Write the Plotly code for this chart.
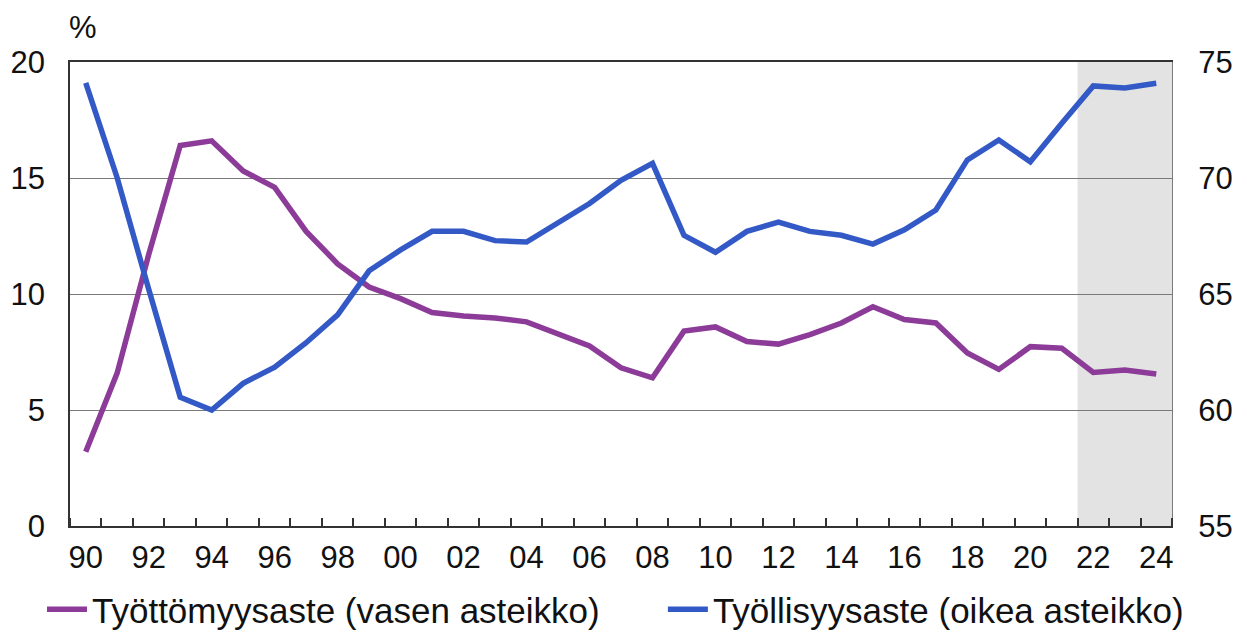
import plotly.graph_objects as go

years = list(range(1990, 2025))
tick_years = list(range(1990, 2025, 2))
tick_labels = [f"{y % 100:02d}" for y in tick_years]

unemployment = [3.2, 6.6, 11.7, 16.4, 16.6, 15.3, 14.6, 12.7, 11.3, 10.3,
                9.8, 9.2, 9.05, 8.97, 8.8, 8.3, 7.76, 6.82, 6.39, 8.4,
                8.58, 7.95, 7.84, 8.25, 8.75, 9.45, 8.9, 8.75, 7.46, 6.75,
                7.73, 7.66, 6.62, 6.72, 6.55]
employment = [74.1, 70.0, 65.2, 60.55, 60.0, 61.15, 61.85, 62.9, 64.1, 66.0,
              66.9, 67.7, 67.7, 67.3, 67.24, 68.1, 68.9, 69.9, 70.63, 67.53,
              66.8, 67.7, 68.1, 67.7, 67.53, 67.15, 67.77, 68.62, 70.78, 71.64,
              70.7, 72.36, 73.97, 73.88, 74.08]

shade_start, shade_end = 2021.5, 2024.5

PURPLE = "#8C3C98"
BLUE = "#3359C6"
FONT = "Liberation Sans, Arial, sans-serif"
FS = 31
LFS = 35

fig = go.Figure()
fig.add_trace(go.Scatter(x=years, y=unemployment, mode="lines",
                         name="Työttömyysaste (vasen asteikko)", legend="legend",
                         line=dict(color=PURPLE, width=5.5)))
fig.add_trace(go.Scatter(x=years, y=employment, mode="lines", yaxis="y2",
                         name="Työllisyysaste (oikea asteikko)", legend="legend2",
                         line=dict(color=BLUE, width=5.5)))

fig.add_shape(type="rect", xref="x", yref="paper", x0=shade_start, x1=shade_end,
              y0=0, y1=1, fillcolor="#E3E3E3", line=dict(width=0), layer="below")

fig.add_annotation(text="%", xref="paper", yref="paper", x=0.0, y=1.0,
                   xanchor="left", yanchor="bottom", yshift=16, xshift=-2,
                   showarrow=False, borderpad=0,
                   font=dict(size=FS, color="#111", family=FONT))

legend_common = dict(orientation="h", yanchor="middle", y=-0.18, xanchor="left",
                     font=dict(size=LFS, family=FONT, color="#111"),
                     itemwidth=40, bgcolor="rgba(0,0,0,0)")

fig.update_layout(
    width=1239, height=626,
    margin=dict(l=62, r=75, t=54, b=108, autoexpand=False),
    paper_bgcolor="white", plot_bgcolor="white",
    font=dict(family=FONT, size=FS, color="#111"),
    showlegend=True,
    legend=dict(x=-0.0254, **legend_common),
    legend2=dict(x=0.538, **legend_common),
    xaxis=dict(range=[1989.5, 2024.5], tickmode="array", tickvals=tick_years,
               ticktext=tick_labels, ticks="", showgrid=False, zeroline=False,
               showline=True, linecolor="#333", linewidth=1.5, mirror=True,
               ticklabelstandoff=3, automargin=False,
               minor=dict(tickmode="linear", tick0=1990.5, dtick=1, ticks="inside",
                          ticklen=8, tickcolor="#333", tickwidth=1.5, showgrid=False)),
    yaxis=dict(range=[0, 20], tickvals=[0, 5, 10, 15, 20], showgrid=True,
               gridcolor="#7a7a7a", gridwidth=1.3, zeroline=False, showline=True,
               linecolor="#333", linewidth=1.5, ticks="outside", ticklen=17,
               tickcolor="rgba(0,0,0,0)", automargin=False),
    yaxis2=dict(range=[55, 75], tickvals=[55, 60, 65, 70, 75], overlaying="y",
                side="right", showgrid=False, zeroline=False, showline=True,
                linecolor="#7a7a7a", linewidth=1.3, ticks="outside", ticklen=19,
                tickcolor="rgba(0,0,0,0)", automargin=False),
)

fig.write_html("out.html")
